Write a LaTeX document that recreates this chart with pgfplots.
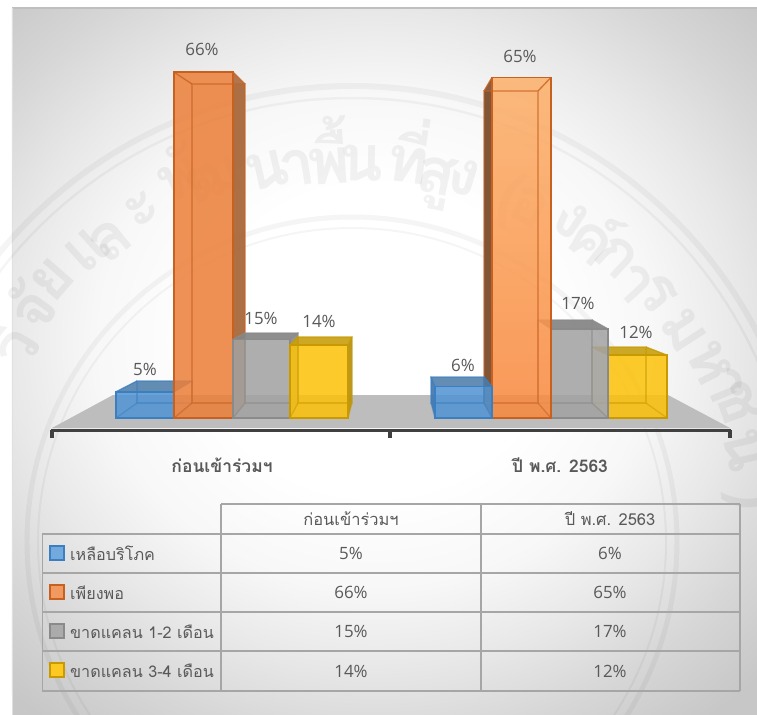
\documentclass[border=0pt]{standalone}
\usepackage{pgfplots}
\pgfplotsset{compat=1.18}
\usepackage{fontspec}
\setmainfont[Script=Thai]{Loma}
\newfontfamily\numf{Open Sans}
\definecolor{txt}{HTML}{595959}
\definecolor{gridc}{HTML}{A6A6A6}
\definecolor{bF}{HTML}{5094D4}\definecolor{bE}{HTML}{3B7FC0}
\definecolor{oF}{HTML}{EC7F39}\definecolor{oE}{HTML}{C8611F}
\definecolor{gF}{HTML}{A2A2A2}\definecolor{gE}{HTML}{8A8A8A}
\definecolor{yF}{HTML}{FCC209}\definecolor{yE}{HTML}{C89A00}
\definecolor{ooTop}{HTML}{FDB069}\definecolor{ooBot}{HTML}{F8883D}
\definecolor{bTop}{HTML}{4A7BA8}\definecolor{bbSide}{HTML}{3F76AE}
\definecolor{oSide}{HTML}{A9683B}\definecolor{ooSide}{HTML}{7B4E2E}
\definecolor{gTop}{HTML}{858585}\definecolor{gSide}{HTML}{8A8A8A}
\definecolor{yTop}{HTML}{C7A010}\definecolor{ySide}{HTML}{B8921A}\definecolor{yyIn}{HTML}{D9CFA0}
\pgfdeclareradialshading{panelbg}{\pgfpoint{0bp}{0bp}}{color(0bp)=(white); color(8bp)=(white); color(13bp)=(black!3); color(17bp)=(black!9); color(21bp)=(black!16); color(25bp)=(black!22); color(50bp)=(black!22)}
\pgfplotsset{
 pct/.style={y filter/.expression={418-5.24*y}},
 inner/.style={fill=white,fill opacity=.06},
 bFace/.style={fill=bF,fill opacity=.85},
 oFace/.style={fill=oF,fill opacity=.85},
 ooFace/.style={shade,top color=ooTop,bottom color=ooBot,fill opacity=.85},
 gFace/.style={fill=gF,fill opacity=.85},
 yFace/.style={fill=yF,fill opacity=.85},
 bT/.style={fill=bTop,fill opacity=.85},bL/.style={inner},bR/.style={inner},
 bbT/.style={fill=bTop,fill opacity=.85},bbL/.style={fill=bbSide,fill opacity=.9},bbR/.style={inner},
 oT/.style={inner},oL/.style={inner},oR/.style={fill=oSide,fill opacity=.95},
 ooT/.style={inner},ooL/.style={fill=ooSide,fill opacity=.95},ooR/.style={inner},
 gT/.style={fill=gTop,fill opacity=.92},gL/.style={inner},gR/.style={fill=gSide,fill opacity=.9},
 ggT/.style={fill=gTop,fill opacity=.92},ggL/.style={inner},ggR/.style={inner},
 yT/.style={fill=yTop,fill opacity=.9},yL/.style={inner},yR/.style={fill=ySide,fill opacity=.95},
 yyT/.style={fill=yTop,fill opacity=.9},yyL/.style={fill=yyIn,fill opacity=.7},yyR/.style={inner},
}
% #1 xl #2 xr #3 value #4 back xl #5 back xr #6 back top #7 colour family #8 side family #9 edge colour
\newcommand{\threeD}[9]{%
 \addplot[pct,fill=#9,fill opacity=.05,draw=none] coordinates {(#4,2.86)(#5,2.86)(#5,#6)(#4,#6)} --cycle;
 \addplot[pct,fill=#9,fill opacity=.05,draw=none] coordinates {(#1,0)(#2,0)(#5,2.86)(#4,2.86)} --cycle;
 \addplot[pct,#8L,draw=none] coordinates {(#1,0)(#1,#3)(#4,#6)(#4,2.86)} --cycle;
 \addplot[pct,#8R,draw=none] coordinates {(#2,0)(#2,#3)(#5,#6)(#5,2.86)} --cycle;
 \addplot[pct,#8T,draw=none] coordinates {(#1,#3)(#2,#3)(#5,#6)(#4,#6)} --cycle;
 \addplot[pct,#7Face,draw=none] coordinates {(#1,0)(#2,0)(#2,#3)(#1,#3)} --cycle;
 \addplot[pct,draw=#9,draw opacity=.5,line width=1.3pt] coordinates {(#4,2.86)(#5,2.86)(#5,#6)(#4,#6)} --cycle;
 \addplot[pct,draw=#9,draw opacity=.5,line width=1.3pt] coordinates {(#1,0)(#4,2.86)};
 \addplot[pct,draw=#9,draw opacity=.5,line width=1.3pt] coordinates {(#2,0)(#5,2.86)};
 \addplot[pct,draw=#9,draw opacity=.8,line width=1.3pt] coordinates {(#1,#3)(#4,#6)};
 \addplot[pct,draw=#9,draw opacity=.8,line width=1.3pt] coordinates {(#2,#3)(#5,#6)};
 \addplot[pct,draw=#9,line width=1.8pt] coordinates {(#1,0)(#2,0)(#2,#3)(#1,#3)} --cycle;
}
\newcommand{\wm}[4]{\node[rotate=#3,opacity=.05,font=\fontsize{64}{66}\selectfont\bfseries] at (axis cs:#1,#2) {#4};}
\newcommand{\lab}[3]{\node[text=txt,font=\fontsize{17}{20}\selectfont\numf,inner sep=0pt] at (axis cs:#1,#2) {#3};}
\newcommand{\tlab}[3]{\node[text=txt,font=\fontsize{16.5}{20}\selectfont,inner sep=0pt] at (axis cs:#1,#2) {#3};}
\begin{document}
\begin{tikzpicture}
\path[use as bounding box,clip] (0,0) rectangle (757bp,715bp);
\begin{axis}[at={(0,0)},anchor=south west,scale only axis,width=757bp,height=715bp,
  xmin=0,xmax=757,ymin=0,ymax=715,y dir=reverse,hide axis,clip=false,no marks,line join=miter]
% panel
\addplot[fill=black!22,draw=none] coordinates {(12,8)(757,8)(757,715)(12,715)} --cycle;
\begin{scope}
 \clip (axis cs:12,8) rectangle (axis cs:757,715);
 \shade[shading=panelbg] (axis cs:375,340) ellipse [x radius=540bp,y radius=480bp];
\end{scope}
\draw[black!25,line width=1.2pt] (axis cs:12,8) -- (axis cs:757,8);
\draw[black!12,line width=1pt] (axis cs:12,8) -- (axis cs:12,715);
% watermark
\draw[black,opacity=.04,line width=6pt] (axis cs:352,542) circle [radius=456bp];
\draw[black,opacity=.04,line width=2.5pt] (axis cs:352,542) circle [radius=444bp];
\draw[black,opacity=.04,line width=5pt] (axis cs:352,542) circle [radius=325bp];
\draw[black,opacity=.04,line width=2pt] (axis cs:352,542) circle [radius=314bp];
\wm{12}{345}{60}{วิ}\wm{30}{307}{54}{จั}\wm{52}{280}{49}{ย}\wm{88}{250}{42}{แ}\wm{110}{240}{39}{ล}\wm{143}{210}{32}{ะ}
\wm{177}{172}{26}{พั}\wm{213}{180}{21}{ฒ}\wm{267}{170}{13}{น}\wm{297}{168}{9}{า}\wm{328}{150}{4}{พื้}\wm{362}{163}{-1}{น}
\wm{410}{150}{-8}{ที่}\wm{435}{183}{-12}{สู}\wm{464}{177}{-17}{ง}\wm{510}{200}{-24}{(}\wm{530}{207}{-28}{อ}\wm{570}{220}{-34}{ง}
\wm{597}{235}{-39}{ค์}\wm{617}{257}{-43}{ก}\wm{634}{283}{-47}{า}\wm{657}{293}{-50}{ร}\wm{684}{330}{-57}{ม}\wm{710}{363}{-63}{ห}
\wm{725}{385}{-67}{า}\wm{737}{403}{-70}{ช}\wm{744}{450}{-77}{น}\wm{752}{500}{-85}{)}
% floor
\addplot[fill=black!26,draw=none] coordinates {(52,428)(730,428)(668,395)(113,395)} --cycle;
% bars: ก่อนเข้าร่วมฯ
\threeD{116}{174}{5}{137}{192}{7.06}{b}{b}{bE}
\threeD{174}{233}{66}{192}{245}{63.74}{o}{o}{oE}
\threeD{233}{290}{15}{245}{298}{16.22}{g}{g}{gE}
\threeD{290}{348}{14}{298}{352}{15.46}{y}{y}{yE}
% bars: ปี พ.ศ. 2563 (right to left)
\threeD{608}{667}{12}{592}{646}{13.55}{y}{yy}{yE}
\threeD{551}{608}{17}{538}{592}{18.70}{g}{gg}{gE}
\threeD{492}{551}{65}{484}{538}{62.40}{oo}{oo}{oE}
\threeD{435}{492}{6}{431}{484}{7.82}{b}{bb}{bE}
% category axis
\addplot[color=black!75,line width=3pt] coordinates {(51,430)(731,430)};
\addplot[color=black!75,line width=4pt] coordinates {(52,430)(52,438)};
\addplot[color=black!75,line width=4pt] coordinates {(390,430)(390,438)};
\addplot[color=black!75,line width=4pt] coordinates {(730,430)(730,438)};
% data labels
\lab{202}{49}{66\%}\lab{520}{56}{65\%}\lab{145}{369}{5\%}\lab{261}{318}{15\%}\lab{319}{321}{14\%}
\lab{463}{365}{6\%}\lab{578}{303}{17\%}\lab{636}{332}{12\%}
% category names
\node[text=txt,font=\fontsize{17.5}{20}\selectfont\bfseries,inner sep=0pt] at (axis cs:222,465) {ก่อนเข้าร่วมฯ};
\node[text=txt,font=\fontsize{17.5}{20}\selectfont\bfseries,inner sep=0pt] at (axis cs:560,465) {ปี พ.ศ. 2563};
% data table
\addplot[color=gridc,line width=1.8pt] coordinates {(221,504)(740,504)};
\addplot[color=gridc,line width=1.8pt] coordinates {(42.5,534)(740,534)};
\addplot[color=gridc,line width=1.8pt] coordinates {(42.5,573)(740,573)};
\addplot[color=gridc,line width=1.8pt] coordinates {(42.5,612)(740,612)};
\addplot[color=gridc,line width=1.8pt] coordinates {(42.5,651)(740,651)};
\addplot[color=gridc,line width=1.8pt] coordinates {(42.5,691)(740,691)};
\addplot[color=gridc,line width=1.8pt] coordinates {(42.5,534)(42.5,691)};
\addplot[color=gridc,line width=1.8pt] coordinates {(221,504)(221,691)};
\addplot[color=gridc,line width=1.8pt] coordinates {(481,504)(481,691)};
\addplot[color=gridc,line width=1.8pt] coordinates {(740,504)(740,691)};
\tlab{351}{519}{ก่อนเข้าร่วมฯ}\tlab{610}{519}{ปี พ.ศ. 2563}
\lab{351}{553.5}{5\%}\lab{610}{553.5}{6\%}
\lab{351}{592.5}{66\%}\lab{610}{592.5}{65\%}
\lab{351}{631.5}{15\%}\lab{610}{631.5}{17\%}
\lab{351}{671}{14\%}\lab{610}{671}{12\%}
\addplot[fill=bF!80,draw=bE,line width=1.6pt] coordinates {(50,546)(64,546)(64,560)(50,560)} --cycle;
\addplot[fill=oF!80,draw=oE,line width=1.6pt] coordinates {(50,585)(64,585)(64,599)(50,599)} --cycle;
\addplot[fill=gF!90,draw=gE,line width=1.6pt] coordinates {(50,624)(64,624)(64,638)(50,638)} --cycle;
\addplot[fill=yF!90,draw=yE,line width=1.6pt] coordinates {(50,663)(64,663)(64,677)(50,677)} --cycle;
\node[text=txt,anchor=west,font=\fontsize{16.2}{20}\selectfont,inner sep=0pt] at (axis cs:70,553.5) {เหลือบริโภค};
\node[text=txt,anchor=west,font=\fontsize{16.2}{20}\selectfont,inner sep=0pt] at (axis cs:70,592.5) {เพียงพอ};
\node[text=txt,anchor=west,font=\fontsize{16.2}{20}\selectfont,inner sep=0pt] at (axis cs:70,631.5) {ขาดแคลน 1-2 เดือน};
\node[text=txt,anchor=west,font=\fontsize{16.2}{20}\selectfont,inner sep=0pt] at (axis cs:70,671) {ขาดแคลน 3-4 เดือน};
\end{axis}
\end{tikzpicture}
\end{document}
